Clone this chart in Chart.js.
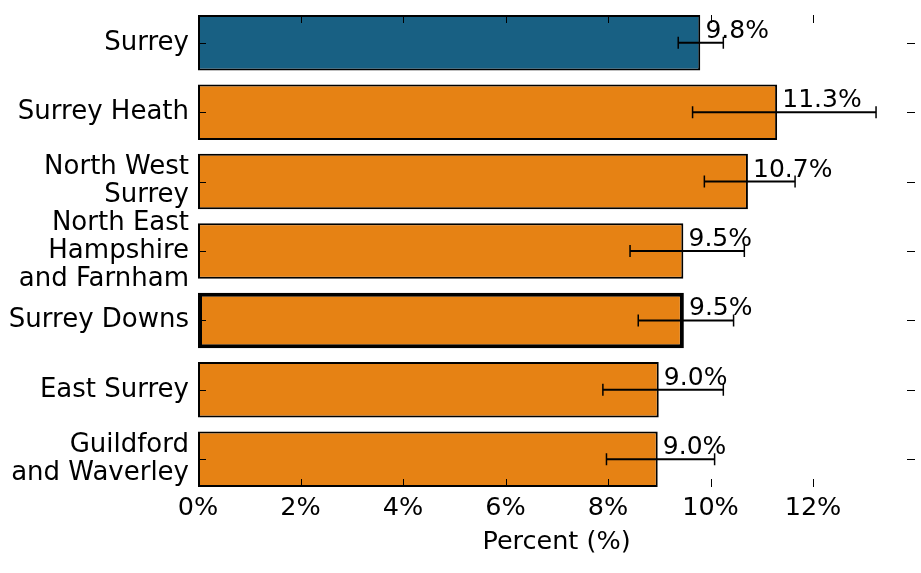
<!DOCTYPE html>
<html>
<head>
<meta charset="utf-8">
<script src="https://cdn.jsdelivr.net/npm/chart.js@4.4.1/dist/chart.umd.min.js"></script>
<style>
html,body{margin:0;padding:0;background:#fff;}
#wrap{width:921px;height:573px;}
</style>
</head>
<body>
<div id="wrap"><canvas id="c" width="921" height="573"></canvas></div>
<script>
const categories = [
  ["Surrey"],
  ["Surrey Heath"],
  ["North West", "Surrey"],
  ["North East", "Hampshire", "and Farnham"],
  ["Surrey Downs"],
  ["East Surrey"],
  ["Guildford", "and Waverley"]
];
const values = [9.8, 11.3, 10.73, 9.47, 9.48, 8.99, 8.97];
const errLow = [9.37, 9.65, 9.88, 8.43, 8.59, 7.90, 7.97];
const errHigh = [10.25, 13.23, 11.65, 10.66, 10.45, 10.25, 10.08];
const xTicks = [0, 2, 4, 6, 8, 10, 12];

const FONT = "'DejaVu Sans', sans-serif";
const barColors = values.map((v, i) => i === 0 ? '#186083' : '#E68214');
const borderWidths = values.map((v, i) => i === 4 ? 4 : 2);

const overlay = {
  id: 'overlay',
  afterDatasetsDraw(chart) {
    const ctx = chart.ctx;
    const xs = chart.scales.x, ys = chart.scales.y;
    const a = chart.chartArea;
    const meta = chart.getDatasetMeta(0);
    ctx.save();
    // error bars
    ctx.strokeStyle = '#000';
    meta.data.forEach((bar, i) => {
      const y = bar.y;
      const x1 = xs.getPixelForValue(errLow[i]);
      const x2 = xs.getPixelForValue(errHigh[i]);
      ctx.lineWidth = 2;
      ctx.beginPath(); ctx.moveTo(x1, y); ctx.lineTo(x2, y); ctx.stroke();
      ctx.lineWidth = 1.5;
      ctx.beginPath();
      ctx.moveTo(x1, y - 6); ctx.lineTo(x1, y + 6);
      ctx.moveTo(x2, y - 6); ctx.lineTo(x2, y + 6);
      ctx.stroke();
    });
    // value labels
    ctx.fillStyle = '#000';
    ctx.font = '25px ' + FONT;
    ctx.textAlign = 'left';
    ctx.textBaseline = 'alphabetic';
    meta.data.forEach((bar, i) => {
      const x = xs.getPixelForValue(values[i] + 0.1);
      ctx.fillText(values[i].toFixed(1) + '%', x, bar.y - 5);
    });
    // inward ticks on all four sides
    ctx.lineWidth = 1;
    ctx.beginPath();
    xTicks.forEach(t => {
      const x = Math.round(xs.getPixelForValue(t)) + 0.5;
      ctx.moveTo(x, a.bottom); ctx.lineTo(x, a.bottom - 8);
      ctx.moveTo(x, a.top); ctx.lineTo(x, a.top + 8);
    });
    categories.forEach((c, i) => {
      const y = Math.round(ys.getPixelForValue(i)) + 0.5;
      ctx.moveTo(a.left, y); ctx.lineTo(a.left + 8, y);
      ctx.moveTo(a.right, y); ctx.lineTo(a.right - 8, y);
    });
    ctx.stroke();
    ctx.restore();
  }
};

new Chart(document.getElementById('c'), {
  type: 'bar',
  data: {
    datasets: [{
      data: values.map((v, i) => ({ x: v, y: i })),
      backgroundColor: barColors,
      borderColor: '#000',
      borderWidth: borderWidths,
      borderSkipped: false,
      categoryPercentage: 0.8,
      barPercentage: 1.0
    }]
  },
  options: {
    indexAxis: 'y',
    responsive: false,
    animation: false,
    devicePixelRatio: 1,
    layout: { padding: { top: 15, right: 6, left: 0, bottom: 0 } },
    plugins: { legend: { display: false }, tooltip: { enabled: false } },
    scales: {
      x: {
        type: 'linear',
        min: 0,
        max: 13.99,
        offset: false,
        border: { display: false },
        grid: { display: false, drawTicks: false },
        ticks: {
          stepSize: 2,
          includeBounds: false,
          autoSkip: false,
          padding: 6,
          color: '#000',
          font: { family: FONT, size: 25.5 },
          maxRotation: 0,
          callback: v => v + '%'
        },
        afterBuildTicks: s => { s.ticks = xTicks.map(v => ({ value: v })); },
        afterFit: s => { s.height = 86; s.paddingLeft = 0; s.paddingRight = 0; },
        title: {
          display: true,
          text: 'Percent (%)',
          color: '#000',
          font: { family: FONT, size: 25.5 },
          padding: { top: 0, bottom: 15 }
        }
      },
      y: {
        type: 'linear',
        min: -0.4,
        max: 6.4,
        reverse: true,
        offset: false,
        border: { display: false },
        grid: { display: false, drawTicks: false, offset: false },
        ticks: {
          stepSize: 1,
          autoSkip: false,
          padding: 9,
          color: '#000',
          font: { family: FONT, size: 26, lineHeight: 1.08 },
          callback: v => categories[v]
        },
        afterBuildTicks: s => { s.ticks = categories.map((c, i) => ({ value: i })); },
        afterFit: s => { s.width = 198; s.paddingTop = 0; s.paddingBottom = 0; }
      }
    }
  },
  plugins: [overlay]
});
</script>
</body>
</html>
